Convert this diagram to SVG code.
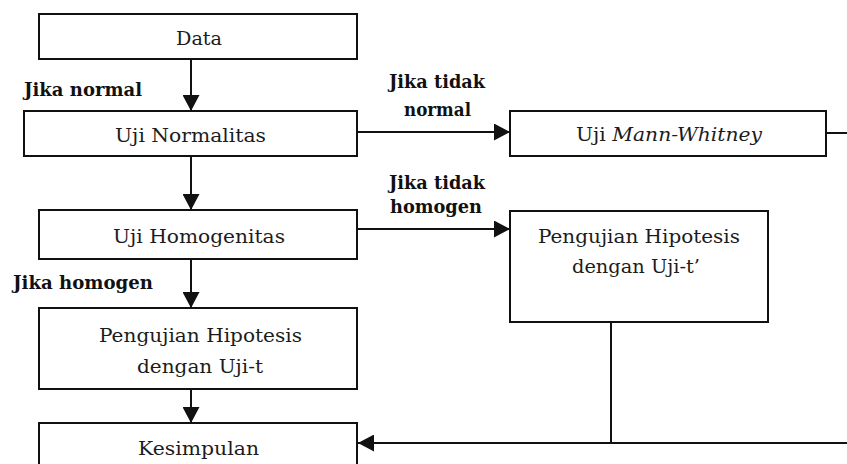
<svg xmlns="http://www.w3.org/2000/svg" width="847" height="464" viewBox="0 0 847 464">
  <style>
    .box { fill: #ffffff; stroke: #111111; stroke-width: 2; }
    .conn { fill: none; stroke: #111111; stroke-width: 2; }
    .t { font-family: "DejaVu Serif", "Liberation Serif", serif; font-size: 18.5px; fill: #1c1c1c; text-anchor: middle; }
    .lbl { font-family: "DejaVu Serif", "Liberation Serif", serif; font-size: 18.5px; font-weight: bold; fill: #111111; }
    .c { text-anchor: middle; }
  </style>
  <defs>
    <marker id="arr" markerUnits="userSpaceOnUse" markerWidth="16" markerHeight="17" refX="16" refY="8.5" orient="auto" viewBox="0 0 16 17">
      <path d="M0,0 L16,8.5 L0,17 Z" fill="#111111"/>
    </marker>
  </defs>

  <g id="connectors">
    <line class="conn" x1="191" y1="59" x2="191" y2="111" marker-end="url(#arr)"/>
    <line class="conn" x1="191" y1="156" x2="191" y2="210" marker-end="url(#arr)"/>
    <line class="conn" x1="191" y1="259" x2="191" y2="308" marker-end="url(#arr)"/>
    <line class="conn" x1="191" y1="389" x2="191" y2="423" marker-end="url(#arr)"/>
    <line class="conn" x1="357" y1="132" x2="510" y2="132" marker-end="url(#arr)"/>
    <line class="conn" x1="357" y1="229" x2="510" y2="229" marker-end="url(#arr)"/>
    <path class="conn" d="M826,133 H855 V443 H358" marker-end="url(#arr)"/>
    <line class="conn" x1="611" y1="322" x2="611" y2="443"/>
    <text class="lbl" x="24" y="96" textLength="118" lengthAdjust="spacingAndGlyphs">Jika normal</text>
    <text class="lbl c" x="437" y="88" textLength="96" lengthAdjust="spacingAndGlyphs">Jika tidak</text>
    <text class="lbl c" x="437.5" y="116" textLength="67" lengthAdjust="spacingAndGlyphs">normal</text>
    <text class="lbl c" x="437" y="189" textLength="96" lengthAdjust="spacingAndGlyphs">Jika tidak</text>
    <text class="lbl c" x="436" y="213" textLength="92" lengthAdjust="spacingAndGlyphs">homogen</text>
    <text class="lbl" x="13" y="289" textLength="140" lengthAdjust="spacingAndGlyphs">Jika homogen</text>
  </g>

  <g id="data">
    <rect class="box" x="39" y="14" width="318" height="45"/>
    <text class="t" x="199" y="45" textLength="46" lengthAdjust="spacingAndGlyphs">Data</text>
  </g>

  <g id="uji-normalitas">
    <rect class="box" x="24" y="111" width="333" height="45"/>
    <text class="t" x="190.5" y="142" textLength="151" lengthAdjust="spacingAndGlyphs">Uji Normalitas</text>
  </g>

  <g id="uji-mann-whitney">
    <rect class="box" x="510" y="111" width="316" height="45"/>
    <text class="t" x="669" y="141" textLength="186" lengthAdjust="spacingAndGlyphs">Uji <tspan font-style="italic">Mann-Whitney</tspan></text>
  </g>

  <g id="uji-homogenitas">
    <rect class="box" x="39" y="210" width="318" height="49"/>
    <text class="t" x="199" y="243" textLength="172" lengthAdjust="spacingAndGlyphs">Uji Homogenitas</text>
  </g>

  <g id="uji-t-prime">
    <rect class="box" x="510" y="211" width="258" height="111"/>
    <text class="t" x="639" y="243" textLength="202" lengthAdjust="spacingAndGlyphs">Pengujian Hipotesis</text>
    <text class="t" x="636" y="273" textLength="128" lengthAdjust="spacingAndGlyphs">dengan Uji-t’</text>
  </g>

  <g id="uji-t">
    <rect class="box" x="39" y="308" width="318" height="81"/>
    <text class="t" x="200.5" y="342" textLength="203" lengthAdjust="spacingAndGlyphs">Pengujian Hipotesis</text>
    <text class="t" x="200" y="373" textLength="126" lengthAdjust="spacingAndGlyphs">dengan Uji-t</text>
  </g>

  <g id="kesimpulan">
    <rect class="box" x="39" y="423" width="318" height="60"/>
    <text class="t" x="198.5" y="455" textLength="121" lengthAdjust="spacingAndGlyphs">Kesimpulan</text>
  </g>
</svg>
